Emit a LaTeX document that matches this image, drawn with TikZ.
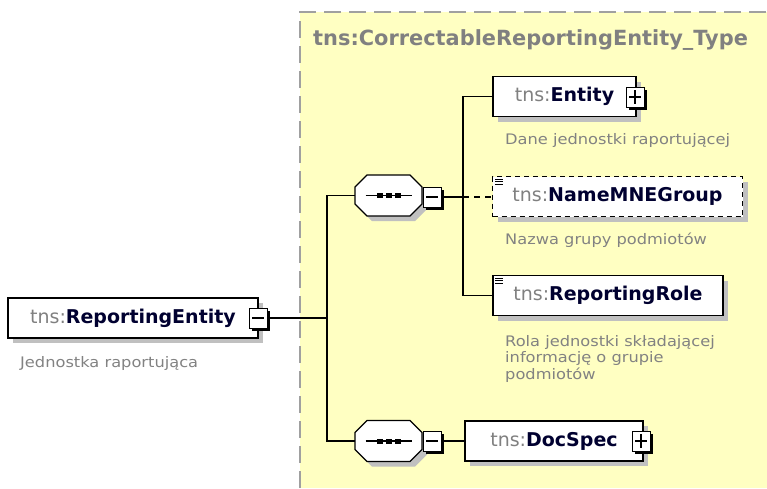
\documentclass[tikz,border=0pt]{standalone}
\usepackage{fontspec}
\setmainfont{DejaVu Sans}
\newfontfamily\notefont[FakeStretch=1.12]{DejaVu Sans}
\usetikzlibrary{positioning,shadows}

\definecolor{typeyellow}{RGB}{255,255,194}
\definecolor{typeborder}{RGB}{160,160,160}
\definecolor{shadowgray}{RGB}{192,192,192}
\definecolor{prefixgray}{RGB}{128,128,128}
\definecolor{namedark}{RGB}{0,0,48}
\definecolor{notegray}{RGB}{130,130,130}

\newcommand{\xname}[1]{{\color{prefixgray}tns:}{\bfseries\color{namedark}#1}}
\newcommand{\octpath}{(-33.5,-8.5) -- (-21.5,-20.5) -- (21.5,-20.5) -- (33.5,-8.5) -- (33.5,8.5) -- (21.5,20.5) -- (-21.5,20.5) -- (-33.5,8.5) -- cycle}

\begin{document}
\begin{tikzpicture}[x=1pt,y=-1pt]
          %% XSD element diagram
          \useasboundingbox (0,0) rectangle (767,488);

          \tikzstyle{elem}=[draw=black,fill=white,line width=1.2pt,inner sep=0pt,minimum height=40pt,
                 font=\fontsize{19}{22}\selectfont,general shadow={shadow xshift=5pt,shadow yshift=-5pt,fill=shadowgray}]
          \tikzstyle{optelem}=[elem,dash pattern=on 5pt off 4pt]
          \tikzstyle{btn}=[draw=black,fill=white,line width=1pt,minimum width=18pt,minimum height=20pt,inner sep=0pt,
                 general shadow={shadow xshift=3pt,shadow yshift=-3pt,fill=black}]
          \tikzstyle{minusbtn}=[btn,path picture={
                 \draw[line width=1.1pt] ([xshift=3pt]path picture bounding box.west) -- ([xshift=-3pt]path picture bounding box.east);}]
          \tikzstyle{plusbtn}=[btn,path picture={
                 \draw[line width=1.1pt] ([xshift=3pt]path picture bounding box.west) -- ([xshift=-3pt]path picture bounding box.east);
                 \draw[line width=1.1pt] ([yshift=-3pt]path picture bounding box.north) -- ([yshift=3pt]path picture bounding box.south);}]
          \tikzstyle{seqbox}=[minimum width=67pt,minimum height=41pt,inner sep=0pt]
          \tikzstyle{note}=[anchor=north west,align=left,inner sep=0pt,text=notegray,font=\notefont\fontsize{14.5}{16.5}\selectfont]
          \tikzstyle{link}=[line width=1.3pt]

          % complex type area
          \fill[typeyellow] (300,12) rectangle (767,488);
          \draw[typeborder,line width=1.2pt,dash pattern=on 17pt off 8pt] (300,488) -- (300,12) -- (767,12);
          \node[anchor=west,inner sep=0pt,text=prefixgray,font=\fontsize{20.9}{24}\selectfont\bfseries] (TYPE) at (313,40) {tns:CorrectableReportingEntity\_Type};

          % root element
          \node[elem,minimum width=250pt] (RE) at (133,318) {\xname{ReportingEntity}\hspace{6pt}};
          \node[minusbtn] (REB) at (258,318) {};
          \node[note] (REN) at (20,356) {Jednostka raportująca};

          % sequences
          \node[seqbox] (SQ1) at (388.5,195.5) {};
          \node[seqbox] (SQ2) at (388.5,441) {};
          \foreach \s in {SQ1,SQ2} {
             \fill[shadowgray,shift={(\s.center)},xshift=5pt,yshift=-5pt] \octpath;
             \filldraw[fill=white,line width=1.2pt,shift={(\s.center)}] \octpath;
             \draw[line width=1.3pt,shift={(\s.center)}] (-23,0) -- (23,0);
             \foreach \d in {-9,0,9}
                \fill[shift={(\s.center)}] (\d-3,-2.5) rectangle (\d+3,2.5);
          }
          \node[minusbtn] (SQ1B) at (432,197) {};
          \node[minusbtn] (SQ2B) at (432,441) {};

          % children of first sequence
          \node[elem,minimum width=143pt] (EN) at (564.5,96.5) {\xname{Entity}\hspace{10pt}};
          \node[plusbtn] (ENB) at (635,97) {};
          \node[note] (ENN) at (505,133) {Dane jednostki raportującej};

          \node[optelem,minimum width=250pt] (MNE) at (617.5,196.5) {\xname{NameMNEGroup}};
          \node[note] (MNEN) at (505,233) {Nazwa grupy podmiotów};

          \node[elem,minimum width=230pt] (RR) at (608,295.5) {\xname{ReportingRole}};
          \node[note] (RRN) at (505,335) {Rola jednostki składającej\\informację o grupie\\podmiotów};

          % simple content marks
          \foreach \n in {MNE,RR}
             \foreach \k in {0,2.5,5}
                \draw[line width=0.8pt] ([shift={(3,3+\k)}]\n.north west) -- ++(8,0);

          % child of second sequence
          \node[elem,minimum width=178pt] (DS) at (554,441) {\xname{DocSpec}\hspace{8pt}};
          \node[plusbtn] (DSB) at (641,441) {};

          % connectors
          \coordinate (J1) at (327,318);
          \coordinate (J2) at (463,197);
          \draw[link] (REB.east) -- (J1);
          \draw[link] (SQ1.west) -- (SQ1.west -| J1) -- (SQ2.west -| J1) -- (SQ2.west);
          \draw[link] (SQ1B.east) -- (J2);
          \draw[link] (EN.west) -- (EN.west -| J2) -- (RR.west -| J2) -- (RR.west);
          \draw[link,dash pattern=on 6pt off 5pt] (J2) -- (MNE.west |- J2);
          \draw[link] (SQ2B.east) -- (DS.west);

        \end{tikzpicture}
\end{document}
